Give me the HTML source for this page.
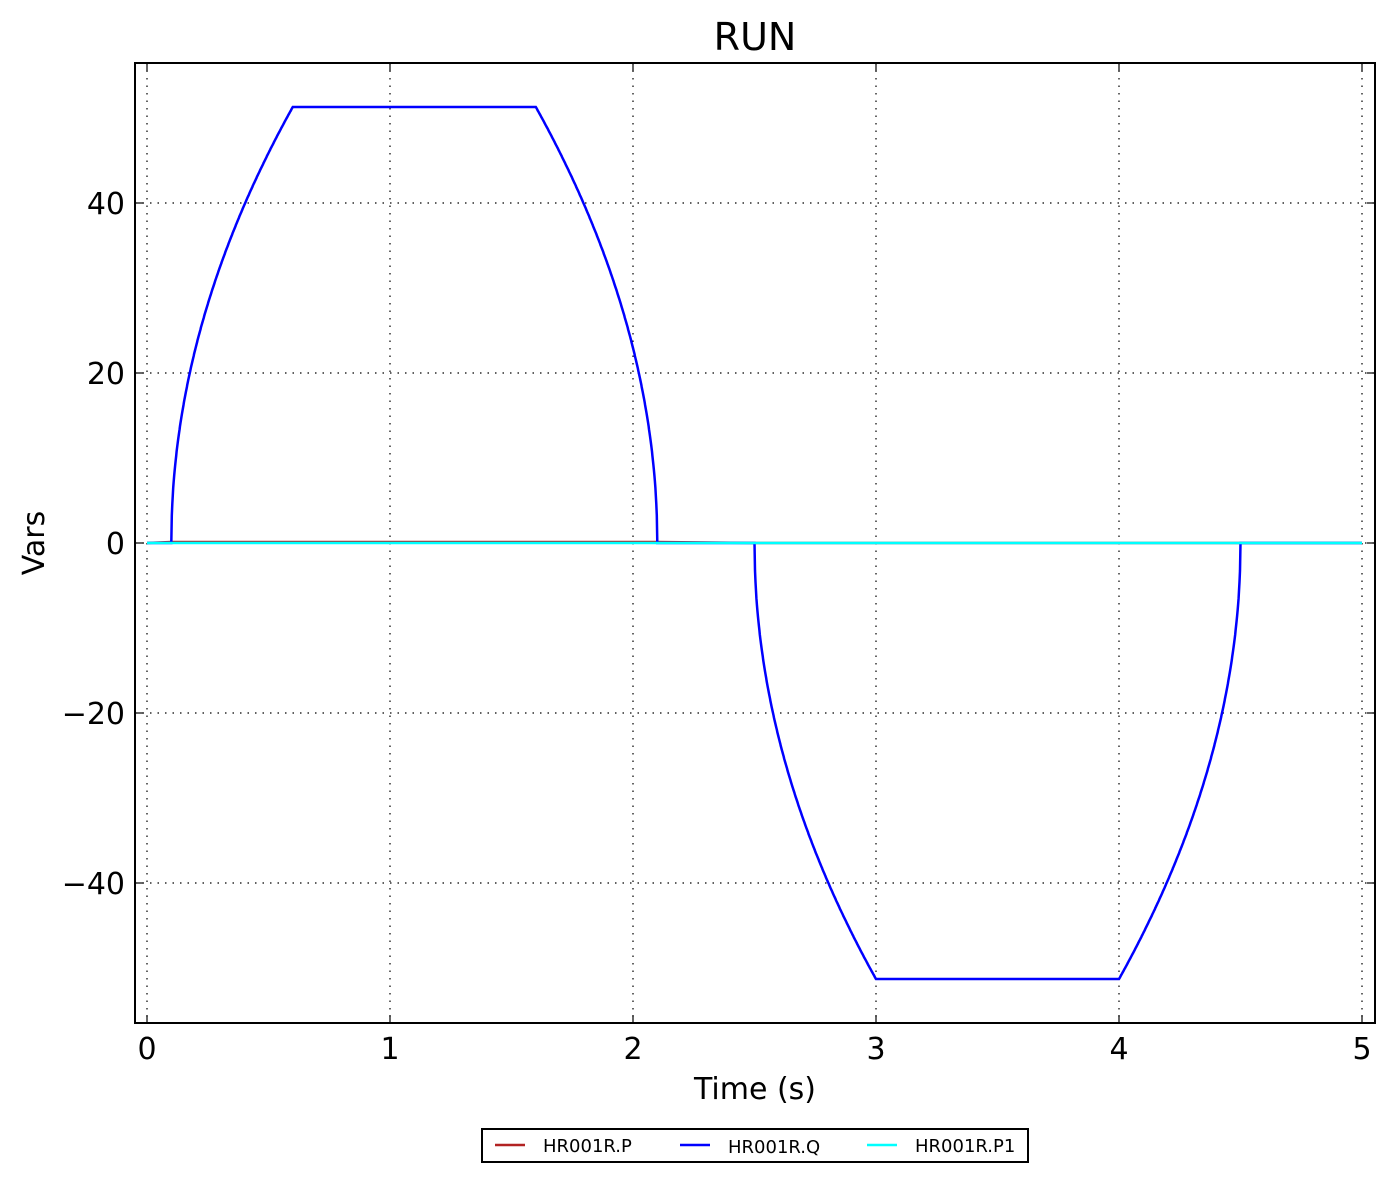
<!DOCTYPE html>
<html><head><meta charset="utf-8"><style>
html,body{margin:0;padding:0;background:#fff;}
svg{display:block;font-family:"DejaVu Sans","Liberation Sans",sans-serif;}
</style></head><body>
<svg id="s" width="1394" height="1182" xmlns="http://www.w3.org/2000/svg">
<rect width="1394" height="1182" fill="#fff"/>
<g id="grid" stroke="#000" stroke-width="1.2" stroke-dasharray="1.5,6"></g>
<g id="ticks" stroke="#000" stroke-width="1.2"></g>
<polyline id="p" fill="none" stroke="#b22222" stroke-width="2.5"/>
<polyline id="q" fill="none" stroke="#0000ff" stroke-width="2.5"/>
<polyline id="p1" fill="none" stroke="#00ffff" stroke-width="2.5"/>
<rect x="135" y="63" width="1240" height="960" fill="none" stroke="#000" stroke-width="2"/>
<g id="labels" font-size="30" fill="#000"></g>
<text x="755" y="50" font-size="38" text-anchor="middle">RUN</text>
<text x="755" y="1099" font-size="30" text-anchor="middle">Time (s)</text>
<text transform="translate(44,543) rotate(-90)" font-size="30" text-anchor="middle">Vars</text>
<rect x="482" y="1129" width="546" height="33" fill="#fff" stroke="#000" stroke-width="2"/>
<line x1="495" y1="1145" x2="525" y2="1145" stroke="#b22222" stroke-width="2.5"/>
<text x="543" y="1152" font-size="18">HR001R.P</text>
<line x1="680" y1="1145" x2="710" y2="1145" stroke="#0000ff" stroke-width="2.5"/>
<text x="728" y="1153" font-size="18">HR001R.Q</text>
<line x1="867" y1="1145" x2="897" y2="1145" stroke="#00ffff" stroke-width="2.5"/>
<text x="915" y="1152" font-size="18">HR001R.P1</text>
</svg>
<script>
var NS="http://www.w3.org/2000/svg";
function X(t){return 147+243*t;}function Y(v){return 543-8.5*v;}
function el(p,n,a,txt){var e=document.createElementNS(NS,n);for(var k in a)e.setAttribute(k,a[k]);if(txt!=null)e.textContent=txt;document.getElementById(p).appendChild(e);}
for(var i=0;i<=5;i++){var x=X(i);
el("grid","line",{x1:x,y1:63,x2:x,y2:1023});
el("ticks","line",{x1:x,y1:1023,x2:x,y2:1015});el("ticks","line",{x1:x,y1:63,x2:x,y2:71});
el("labels","text",{x:x,y:1059,"text-anchor":"middle"},String(i));}
[-40,-20,0,20,40].forEach(function(v){var y=Y(v);
el("grid","line",{x1:135,y1:y,x2:1375,y2:y});
el("ticks","line",{x1:135,y1:y,x2:143,y2:y});el("ticks","line",{x1:1375,y1:y,x2:1367,y2:y});
el("labels","text",{x:125,y:y+11,"text-anchor":"end"},v<0?"\u2212"+(-v):String(v));});
var A=51.3,q=[];
for(var t=0;t<=5.0001;t+=0.002){var v=0;
if(t>0.1&&t<0.6)v=A*Math.sqrt((t-0.1)/0.5);else if(t>=0.6&&t<=1.6)v=A;
else if(t>1.6&&t<2.1)v=A*Math.sqrt((2.1-t)/0.5);
else if(t>2.5&&t<3)v=-A*Math.sqrt((t-2.5)/0.5);else if(t>=3&&t<=4)v=-A;
else if(t>4&&t<4.5)v=-A*Math.sqrt((4.5-t)/0.5);
q.push(X(t).toFixed(1)+","+Y(v).toFixed(1));}
document.getElementById("q").setAttribute("points",q.join(" "));
document.getElementById("p").setAttribute("points",X(0)+",543 "+X(0.1)+",542 "+X(2.1)+",542 "+X(2.5)+",543 "+X(5)+",543");
document.getElementById("p1").setAttribute("points",X(0)+",543 "+X(5)+",543");
</script>
</body></html>
